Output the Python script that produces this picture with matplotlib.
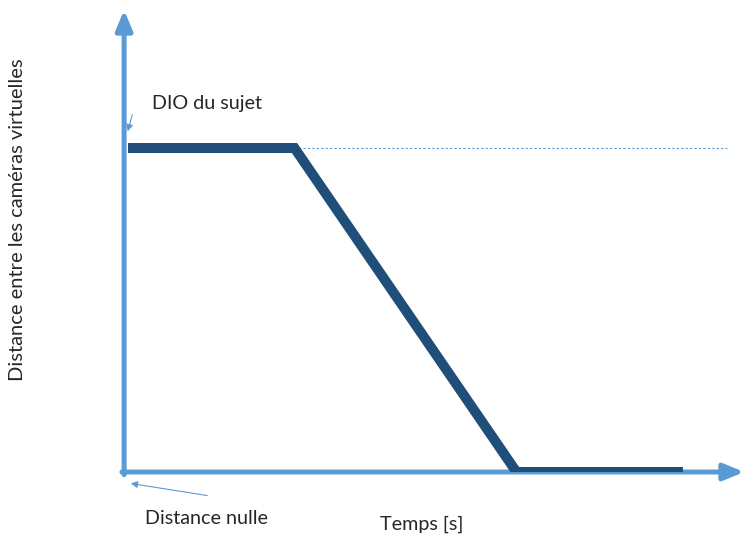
import matplotlib
matplotlib.use('Agg')
import matplotlib.pyplot as plt
from matplotlib.patches import FancyArrowPatch

# Donnees du schema (unites arbitraires)
temps = [0, 3, 7, 10]          # s
distance = [1, 1, 0, 0]        # distance entre les cameras (1 = DIO)
dio = 1
t_max = 11.1
d_max = 1.426

axe_col = '#5B9BD5'
ligne_col = '#1F4E79'
txt_col = '#262626'

W, H = 744, 542
fig = plt.figure(figsize=(W / 100, H / 100), dpi=100)
plt.rcParams['font.family'] = ['Lato', 'DejaVu Sans']

# axes: origine a (128, 472) px, jusqu'au bord droit et y=10 px
ax = fig.add_axes([128 / W, (H - 472) / H, (W - 128) / W, (472 - 10) / H])
ax.set_xlim(0, t_max)
ax.set_ylim(0, d_max)
ax.axis('off')

x_axe = -0.07  # axe vertical juste a gauche du debut de la courbe

# fleches des axes
ax.annotate('', xy=(x_axe, d_max), xytext=(x_axe, -0.008),
            arrowprops=dict(arrowstyle='-|>,head_length=1.2,head_width=0.5',
                            color=axe_col, lw=3.6, shrinkA=0, shrinkB=0),
            annotation_clip=False, zorder=2)
ax.annotate('', xy=(t_max, 0), xytext=(x_axe - 0.04, 0),
            arrowprops=dict(arrowstyle='-|>,head_length=1.2,head_width=0.5',
                            color=axe_col, lw=3.6, shrinkA=0, shrinkB=0),
            annotation_clip=False, zorder=2)

# ligne pointillee au niveau de la DIO
ax.plot([temps[1], 10.8], [dio, dio], color=axe_col, lw=0.8,
        linestyle=(0, (2, 2)), zorder=2)

# courbe
ax.plot(temps, distance, color=ligne_col, lw=7.2, solid_capstyle='butt',
        solid_joinstyle='miter', zorder=5)

# annotations
fig.text(152 / W, 1 - 103 / H, 'DIO du sujet', fontsize=14.2, va='center',
         ha='left', color=txt_col)
fig.add_artist(FancyArrowPatch(
    (133 / W, 1 - 112 / H), (127 / W, 1 - 134 / H),
    transform=fig.transFigure, arrowstyle='-|>,head_length=4,head_width=2',
    color=axe_col, lw=0.8))

fig.text(207 / W, 1 - 518 / H, 'Distance nulle', fontsize=14.2, va='center',
         ha='center', color=txt_col)
fig.add_artist(FancyArrowPatch(
    (210 / W, 1 - 496 / H), (128 / W, 1 - 483 / H),
    transform=fig.transFigure, arrowstyle='-|>,head_length=4,head_width=2',
    color=axe_col, lw=0.8))

fig.text(422 / W, 1 - 524 / H, 'Temps [s]', fontsize=14.2, va='center',
         ha='center', color=txt_col)
fig.text(18 / W, 1 - 220 / H, 'Distance entre les caméras virtuelles',
         fontsize=14.5, va='center', ha='center', rotation=90, color=txt_col)

fig.savefig('out.png', dpi=100)
